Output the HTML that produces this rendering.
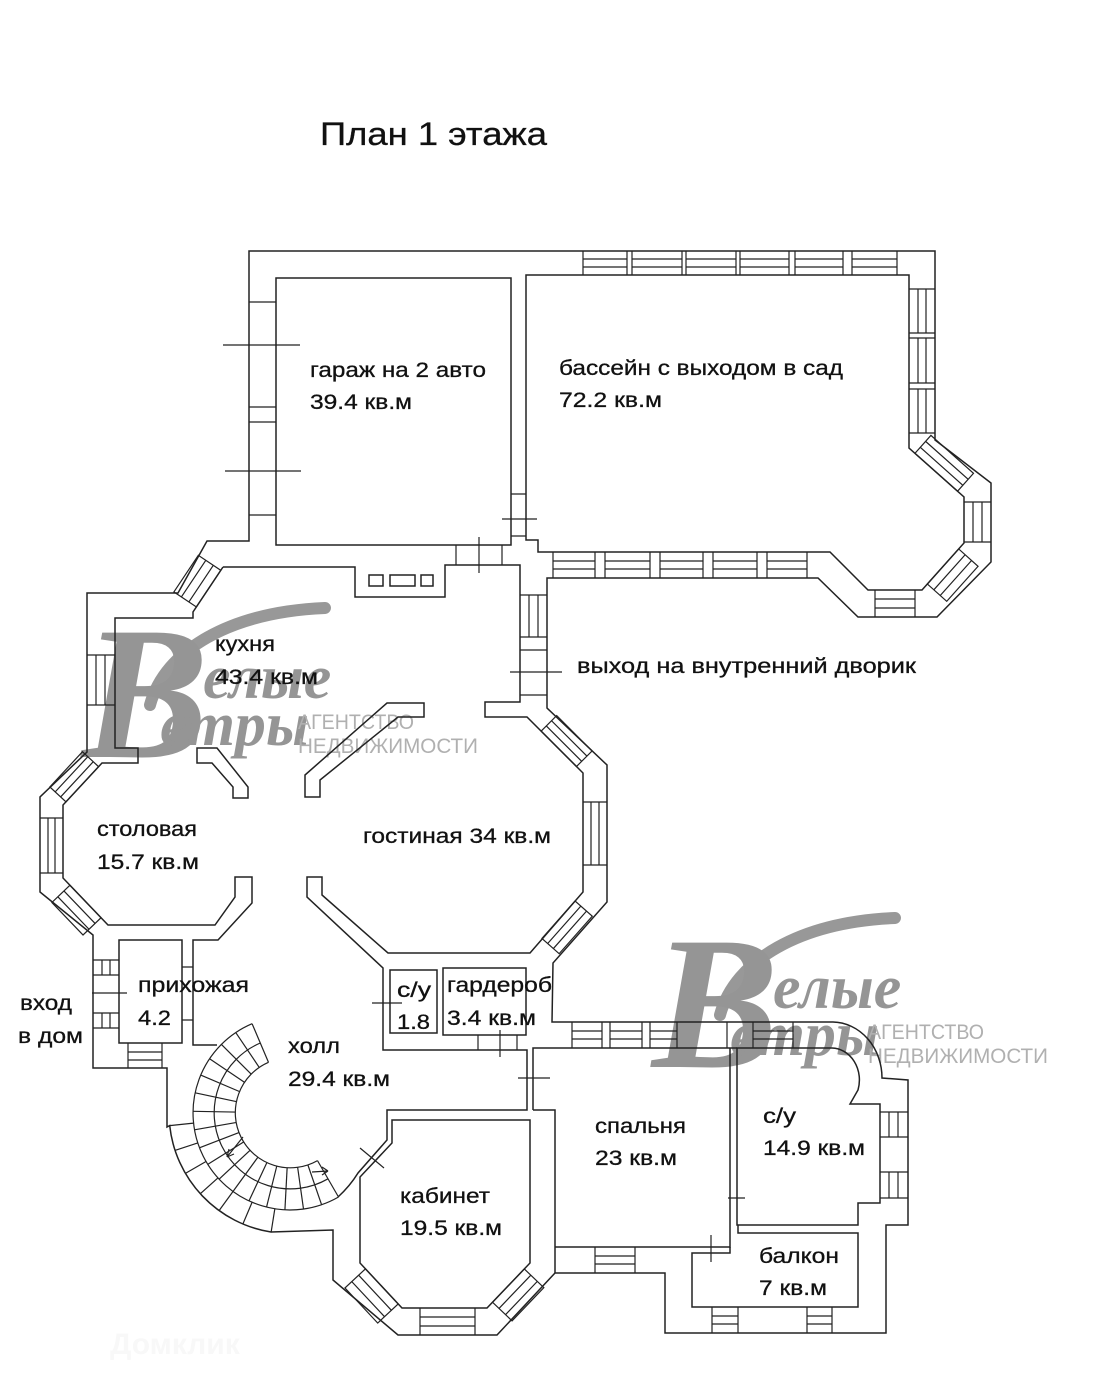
<!DOCTYPE html>
<html><head><meta charset="utf-8"><style>
html,body{margin:0;padding:0;background:#fff;}
svg{display:block;}
text{font-family:"Liberation Sans","DejaVu Sans",sans-serif;}
</style></head><body>
<svg width="1118" height="1400" viewBox="0 0 1118 1400" xmlns="http://www.w3.org/2000/svg">
<rect width="1118" height="1400" fill="#fff"/>

<!-- watermark 1 -->
<g id="wm" fill="#959595">
  <path d="M150,705 C165,650 230,612 325,608" fill="none" stroke="#989898" stroke-width="12" stroke-linecap="round"/>
  <text x="82" y="757" font-size="190" font-style="italic" font-weight="bold" style="font-family:'Liberation Serif',serif">В</text>
  <text x="203" y="698" font-size="62" font-style="italic" font-weight="bold" style="font-family:'Liberation Serif',serif">елые</text>
  <text x="160" y="745" font-size="62" font-style="italic" font-weight="bold" style="font-family:'Liberation Serif',serif">етры</text>
  <text x="298" y="729" font-size="21" fill="#b0b0b0" textLength="116" lengthAdjust="spacingAndGlyphs">АГЕНТСТВО</text>
  <text x="298" y="753" font-size="21" fill="#b0b0b0" textLength="180" lengthAdjust="spacingAndGlyphs">НЕДВИЖИМОСТИ</text>
</g>
<use href="#wm" transform="translate(570,310)"/>

<text x="110" y="1354" font-size="30" font-weight="bold" fill="#f8f8f8">Домклик</text>

<g fill="none" stroke="#222" stroke-width="1.5" stroke-linejoin="miter">
<!-- outer contour -->
<path d="M249,541 L249,251 L935,251 L935,440 L991,483 L991,562 L937,617 L858,617 L818,578 L547,578 L547,708 L607,765 L607,902 L553,963 L552,1022 L833,1022 A50,56 0 0 1 882,1078 L908,1080 L908,1225 L886,1225 L886,1333 L665,1333 L665,1273 L555,1273 L497,1335 L398,1335 L333,1280 L333,1230 L271,1232 A121,121 0 0 1 169.7,1125.6 L167,1127 L167,1068 L93,1068 L93,935 L40,892 L40,797 L87,752 L87,593 L178,593 L207,541 Z"/>
<!-- garage -->
<rect x="276" y="278" width="235" height="267"/>
<!-- pool inner -->
<path d="M526,275 L909,275 L909,448 L964,497 L964,543 L922,590 L868,590 L830,552 L538,552 L538,540 L526,540 Z"/>
<!-- kitchen/living/hall main inner -->
<path d="M223,567 L355,567 L355,597 L445,597 L445,565 L520,565 L520,702 L485,702 L485,717 L527,717 L583,773 L583,892 L530,953 L388,953 L322,895 L322,877 L307,877 L307,897 L383,968 L383,1050 L527,1050 L527,1110 L387,1110 L387,1140 L358,1173 Q350,1186 338,1197"/>
<path d="M223,567 L193,612 L193,618 L115,618 L115,748 L138,748 L138,763 L102,763 L63,805 L63,878 L108,925 L215,925 L235,897 L235,877 L252,877 L252,903 L218,940 L193,940 L193,1045 L217,1045"/>
<!-- stubs -->
<path d="M197,748 L217,748 L248,787 L248,798 L233,798 L233,787 L212,763 L197,763 Z"/>
<path d="M305,797 L305,775 L387,703 L424,703 L424,717 L398,717 L320,780 L320,797 Z"/>
<!-- fireplace -->
<rect x="369" y="575" width="14" height="11"/>
<rect x="390" y="575" width="25" height="11"/>
<rect x="421" y="575" width="12" height="11"/>
<!-- prihozhaya -->
<rect x="119" y="940" width="63" height="103"/>
<!-- wc / wardrobe -->
<rect x="390" y="970" width="47" height="63"/>
<rect x="443" y="968" width="83" height="67"/>
<!-- study -->
<path d="M392,1143 L392,1120 L530,1120 L530,1263 L487,1308 L402,1308 L360,1263 L360,1177 Z"/>
<!-- corridor / bedroom / bath -->
<path d="M533,1110 L533,1048 L737,1048"/>
<path d="M533,1110 L555,1110 L555,1273"/>
<path d="M555,1247 L730,1247 L730,1048"/>
<path d="M737,1048 L832,1048 A28,32 0 0 1 858,1090 L850,1104 L880,1104 L880,1203 L858,1203 L858,1225 L737,1225 Z"/>
<path d="M730,1247 L730,1253 L692,1253 L692,1307 L858,1307 L858,1233 L738,1233 L738,1225"/>
</g>

<!-- windows and ticks -->
<g fill="none" stroke="#222" stroke-width="1.2">
<path d="M583,251V275M627,251V275M583,259H627M583,267H627
M632,251V275M682,251V275M632,259H682M632,267H682
M686,251V275M736,251V275M686,259H736M686,267H736
M740,251V275M789,251V275M740,259H789M740,267H789
M795,251V275M843,251V275M795,259H843M795,267H843
M852,251V275M897,251V275M852,259H897M852,267H897
M909,289H935M909,333H935M918,289V333M926,289V333
M909,338H935M909,383H935M918,338V383M926,338V383
M909,389H935M909,433H935M918,389V433M926,389V433
M964,502H991M964,542H991M973,502V542M982,502V542
M875,590V617M915,590V617M875,599H915M875,608H915
M553,552V578M595,552V578M553,561H595M553,569H595
M605,552V578M650,552V578M605,561H650M605,569H650
M660,552V578M703,552V578M660,561H703M660,569H703
M713,552V578M757,552V578M713,561H757M713,569H757
M767,552V578M807,552V578M767,561H807M767,569H807
M249,302H276M249,407H276M249,422H276M249,515H276
M223,345H300M225,471H301
M511,494H526M511,536H526M502,519H537
M456,545V565M502,545V565M479,537V573
M520,595H547M520,637H547M529,595V637M538,595V637M520,650H547M520,695H547M510,672H562
M87,655H115M87,705H115M96,655V705M105,655V705
M40,818H63M40,873H63M48,818V873M55,818V873
M93,960H119M93,975H119M102,960V975M110,960V975
M93,1013H119M93,1028H119M102,1013V1028M110,1013V1028
M92,993H127
M128,1043V1068M162,1043V1068M128,1052H162M128,1060H162
M182,967H193M182,1020H193
M583,802H607M583,865H607M591,802V865M599,802V865
M478,1035V1050M517,1035V1050M500,1030V1057M372,1003H402
M518,1078H550
M572,1022V1048M602,1022V1048M572,1031H602M572,1039H602
M610,1022V1048M642,1022V1048M610,1031H642M610,1039H642
M650,1022V1048M677,1022V1048M650,1031H677M650,1039H677
M727,1022V1048
M753,1022V1048M793,1022V1048M753,1031H793M753,1039H793
M880,1112H908M880,1137H908M889,1112V1137M898,1112V1137
M880,1172H908M880,1198H908M889,1172V1198M898,1172V1198
M595,1247V1273M635,1247V1273M595,1256H635M595,1264H635
M712,1307V1333M738,1307V1333M712,1316H738M712,1324H738
M807,1307V1333M832,1307V1333M807,1316H832M807,1324H832
M711,1235V1262M728,1198H745
M420,1308V1335M475,1308V1335M420,1317H475M420,1326H475
M360,1148L384,1168"/>

<!-- diagonal windows -->
<g transform="translate(909,448) rotate(41.7)"><rect x="8" y="-24" width="57" height="24"/><path d="M8,-8H65M8,-16H65"/></g>
<g transform="translate(964,543) rotate(131.8)"><rect x="8" y="-26" width="47" height="26"/><path d="M8,-8.7H55M8,-17.3H55"/></g>
<g transform="translate(223,567) rotate(123.7)"><rect x="4" y="0" width="44" height="27"/><path d="M4,9H48M4,18H48"/></g>
<g transform="translate(102,763) rotate(132.8)"><rect x="5" y="0" width="48" height="22"/><path d="M5,7.3H53M5,14.7H53"/></g>
<g transform="translate(63,878) rotate(46.2)"><rect x="10" y="0" width="45" height="25"/><path d="M10,8.3H55M10,16.7H55"/></g>
<g transform="translate(527,717) rotate(45)"><rect x="20" y="-22" width="50" height="22"/><path d="M20,-7.3H70M20,-14.7H70"/></g>
<g transform="translate(583,892) rotate(131.5)"><rect x="12" y="-23" width="50" height="23"/><path d="M12,-7.7H62M12,-15.3H62"/></g>
<g transform="translate(360,1263) rotate(47)"><rect x="8" y="0" width="48" height="28"/><path d="M8,9.3H56M8,18.7H56"/></g>
<g transform="translate(487,1308) rotate(-46.3)"><rect x="8" y="0" width="46" height="27"/><path d="M8,9H54M8,18H54"/></g>
</g>

<!-- staircase -->
<g fill="none" stroke="#222" stroke-width="1.2">
<path d="M268.5,1062.3 A55,55 0 1 0 317.5,1160.6"/>
<path d="M260.3,1043 A76,76 0 1 0 328,1178.8"/>
<path d="M252.1,1023.7 A97,97 0 1 0 338.5,1197"/>
<g>
<line x1="345" y1="1113" x2="387" y2="1113" transform="rotate(247 290 1113)"/>
<line x1="345" y1="1113" x2="387" y2="1113" transform="rotate(236 290 1113)"/>
<line x1="345" y1="1113" x2="387" y2="1113" transform="rotate(225 290 1113)"/>
<line x1="345" y1="1113" x2="387" y2="1113" transform="rotate(214 290 1113)"/>
<line x1="345" y1="1113" x2="387" y2="1113" transform="rotate(203 290 1113)"/>
<line x1="345" y1="1113" x2="387" y2="1113" transform="rotate(192 290 1113)"/>
<line x1="345" y1="1113" x2="387" y2="1113" transform="rotate(181 290 1113)"/>
<line x1="345" y1="1113" x2="387" y2="1113" transform="rotate(170 290 1113)"/>
<line x1="345" y1="1113" x2="387" y2="1113" transform="rotate(159 290 1113)"/>
<line x1="345" y1="1113" x2="387" y2="1113" transform="rotate(148 290 1113)"/>
<line x1="345" y1="1113" x2="387" y2="1113" transform="rotate(137 290 1113)"/>
<line x1="345" y1="1113" x2="387" y2="1113" transform="rotate(126 290 1113)"/>
<line x1="345" y1="1113" x2="387" y2="1113" transform="rotate(115 290 1113)"/>
<line x1="345" y1="1113" x2="387" y2="1113" transform="rotate(104 290 1113)"/>
<line x1="345" y1="1113" x2="387" y2="1113" transform="rotate(93 290 1113)"/>
<line x1="345" y1="1113" x2="387" y2="1113" transform="rotate(82 290 1113)"/>
<line x1="345" y1="1113" x2="387" y2="1113" transform="rotate(71 290 1113)"/>
<line x1="345" y1="1113" x2="387" y2="1113" transform="rotate(60 290 1113)"/>
<line x1="387" y1="1113" x2="411" y2="1113" transform="rotate(174 290 1113)"/>
<line x1="387" y1="1113" x2="411" y2="1113" transform="rotate(162 290 1113)"/>
<line x1="387" y1="1113" x2="411" y2="1113" transform="rotate(150 290 1113)"/>
<line x1="387" y1="1113" x2="411" y2="1113" transform="rotate(138 290 1113)"/>
<line x1="387" y1="1113" x2="411" y2="1113" transform="rotate(126 290 1113)"/>
<line x1="387" y1="1113" x2="411" y2="1113" transform="rotate(113 290 1113)"/>
<line x1="387" y1="1113" x2="411" y2="1113" transform="rotate(99 290 1113)"/>
</g>
<path d="M227,1157 L243,1137 M227,1157 L229,1149 M227,1157 L234,1154"/>
<path d="M312,1172 L328,1171 M328,1171 L322,1167 M328,1171 L322,1175"/>
</g>

<!-- labels -->
<g fill="#111" stroke="#111" stroke-width="0.3" font-size="21">
<text x="320" y="145" font-size="32" textLength="227" lengthAdjust="spacingAndGlyphs">План 1 этажа</text>
<text x="310" y="377" textLength="176" lengthAdjust="spacingAndGlyphs">гараж на 2 авто</text>
<text x="310" y="409" textLength="102" lengthAdjust="spacingAndGlyphs">39.4 кв.м</text>
<text x="559" y="375" textLength="284" lengthAdjust="spacingAndGlyphs">бассейн с выходом в сад</text>
<text x="559" y="407" textLength="103" lengthAdjust="spacingAndGlyphs">72.2 кв.м</text>
<text x="215" y="651" textLength="60" lengthAdjust="spacingAndGlyphs">кухня</text>
<text x="215" y="684" textLength="103" lengthAdjust="spacingAndGlyphs">43.4 кв.м</text>
<text x="577" y="673" textLength="339" lengthAdjust="spacingAndGlyphs">выход  на внутренний дворик</text>
<text x="97" y="836" textLength="100" lengthAdjust="spacingAndGlyphs">столовая</text>
<text x="97" y="869" textLength="102" lengthAdjust="spacingAndGlyphs">15.7 кв.м</text>
<text x="363" y="843" textLength="188" lengthAdjust="spacingAndGlyphs">гостиная 34 кв.м</text>
<text x="138" y="992" textLength="111" lengthAdjust="spacingAndGlyphs">прихожая</text>
<text x="138" y="1025" textLength="33" lengthAdjust="spacingAndGlyphs">4.2</text>
<text x="20" y="1010" textLength="52" lengthAdjust="spacingAndGlyphs">вход</text>
<text x="18" y="1043" textLength="65" lengthAdjust="spacingAndGlyphs">в дом</text>
<text x="397" y="997" textLength="34" lengthAdjust="spacingAndGlyphs">с/у</text>
<text x="397" y="1029" textLength="33" lengthAdjust="spacingAndGlyphs">1.8</text>
<text x="447" y="992" textLength="105" lengthAdjust="spacingAndGlyphs">гардероб</text>
<text x="447" y="1025" textLength="89" lengthAdjust="spacingAndGlyphs">3.4 кв.м</text>
<text x="288" y="1053" textLength="52" lengthAdjust="spacingAndGlyphs">холл</text>
<text x="288" y="1086" textLength="102" lengthAdjust="spacingAndGlyphs">29.4 кв.м</text>
<text x="595" y="1133" textLength="91" lengthAdjust="spacingAndGlyphs">спальня</text>
<text x="595" y="1165" textLength="82" lengthAdjust="spacingAndGlyphs">23 кв.м</text>
<text x="763" y="1123" textLength="33" lengthAdjust="spacingAndGlyphs">с/у</text>
<text x="763" y="1155" textLength="102" lengthAdjust="spacingAndGlyphs">14.9 кв.м</text>
<text x="400" y="1203" textLength="90" lengthAdjust="spacingAndGlyphs">кабинет</text>
<text x="400" y="1235" textLength="102" lengthAdjust="spacingAndGlyphs">19.5 кв.м</text>
<text x="759" y="1263" textLength="80" lengthAdjust="spacingAndGlyphs">балкон</text>
<text x="759" y="1295" textLength="68" lengthAdjust="spacingAndGlyphs">7 кв.м</text>
</g>
</svg>
</body></html>
